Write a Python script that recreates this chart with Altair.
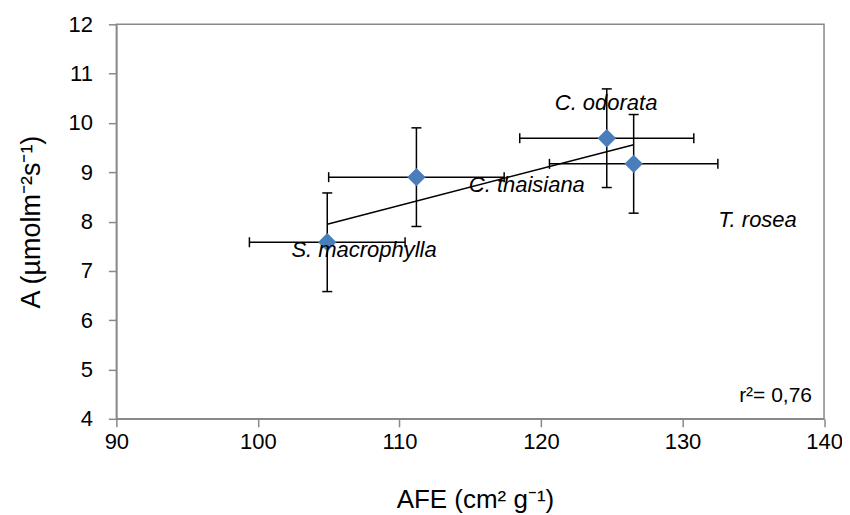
import altair as alt
import pandas as pd

# ---- data ----
species = ["S. macrophylla", "C. thaisiana", "C. odorata", "T. rosea"]
afe_mean = [104.9, 111.2, 124.65, 126.55]
afe_err = [5.5, 6.2, 6.15, 5.95]
a_mean = [7.58, 8.90, 9.69, 9.17]
a_err = [1.0, 1.0, 1.0, 1.0]
label_x = [107.5, 119.0, 124.6, 135.3]
label_y = [7.43, 8.74, 10.40, 8.03]
x_ticks = [90, 100, 110, 120, 130, 140]
y_ticks = [4, 5, 6, 7, 8, 9, 10, 11, 12]
r2_text = ["r²= 0,76"]
r2_x = [139.15]
r2_y = [4.46]

df = pd.DataFrame({
    "species": species,
    "afe": afe_mean,
    "afe_err": afe_err,
    "a": a_mean,
    "a_err": a_err,
})
df["x_lo"] = df["afe"] - df["afe_err"]
df["x_hi"] = df["afe"] + df["afe_err"]
df["y_lo"] = df["a"] - df["a_err"]
df["y_hi"] = df["a"] + df["a_err"]

labels = pd.DataFrame({"text": species, "afe": label_x, "a": label_y})
r2 = pd.DataFrame({"text": r2_text, "afe": r2_x, "a": r2_y})

FONT = "Liberation Sans"
xs = alt.Scale(domain=[90, 140], nice=False, zero=False)
ys = alt.Scale(domain=[4, 12], nice=False, zero=False)
x_axis = alt.Axis(values=x_ticks, title="AFE (cm² g⁻¹)", grid=False,
                  labelFlush=False, labelPadding=5,
                  titleX=359, titleY=89, titleBaseline="alphabetic",
                  titleAlign="center", titleFontSize=26)
y_axis = alt.Axis(values=y_ticks, title="A (µmolm⁻²s⁻¹)", grid=False,
                  labelFlush=False, labelPadding=16,
                  titleX=-85, titleY=197.5, titleAngle=270,
                  titleBaseline="middle", titleAlign="center",
                  titleFontSize=27)


def X(field):
    return alt.X(field, type="quantitative", scale=xs, axis=x_axis)


def Y(field):
    return alt.Y(field, type="quantitative", scale=ys, axis=y_axis)


base = alt.Chart(df)

vbars = base.mark_rule(color="black", strokeWidth=1.5).encode(
    x=X("afe"), y=Y("y_lo"), y2="y_hi")
vcaps = base.transform_fold(["y_lo", "y_hi"], as_=["k", "yv"]).mark_tick(
    orient="horizontal", size=10, thickness=1.5, color="black", opacity=1
).encode(x=X("afe"), y=Y("yv"))
hbars = base.mark_rule(color="black", strokeWidth=1.5).encode(
    x=X("x_lo"), x2="x_hi", y=Y("a"))
hcaps = base.transform_fold(["x_lo", "x_hi"], as_=["k", "xv"]).mark_tick(
    orient="vertical", size=10, thickness=1.5, color="black", opacity=1
).encode(x=X("xv"), y=Y("a"))
trend = base.transform_regression("afe", "a").mark_line(
    color="black", strokeWidth=1.5).encode(x=X("afe"), y=Y("a"))
points = base.mark_point(shape="diamond", filled=True, size=340,
                         color="#4a7ebb", opacity=1).encode(
    x=X("afe"), y=Y("a"))
text = alt.Chart(labels).mark_text(
    font=FONT, fontSize=22, fontStyle="italic", color="black",
    align="center", baseline="middle").encode(
    x=X("afe"), y=Y("a"), text="text:N")
r2t = alt.Chart(r2).mark_text(
    font=FONT, fontSize=21, color="black", align="right",
    baseline="middle").encode(x=X("afe"), y=Y("a"), text="text:N")

chart = alt.layer(vbars, vcaps, hbars, hcaps, trend, points, text, r2t).properties(
    width=708.5, height=395,
    padding={"left": 108.5, "top": 16, "right": 18, "bottom": 94},
    autosize=alt.AutoSizeParams(type="none"),
    background="white",
).configure_view(
    stroke="#898989", strokeWidth=1.5
).configure_axis(
    domainColor="#898989", domainWidth=1.5,
    tickColor="#898989", tickWidth=1.5, tickSize=8,
    labelFont=FONT, labelFontSize=22, labelColor="black",
    titleFont=FONT, titleColor="black", titleFontWeight="normal",
)

chart.save("out.html", embed_options={"renderer": "svg", "actions": False})
